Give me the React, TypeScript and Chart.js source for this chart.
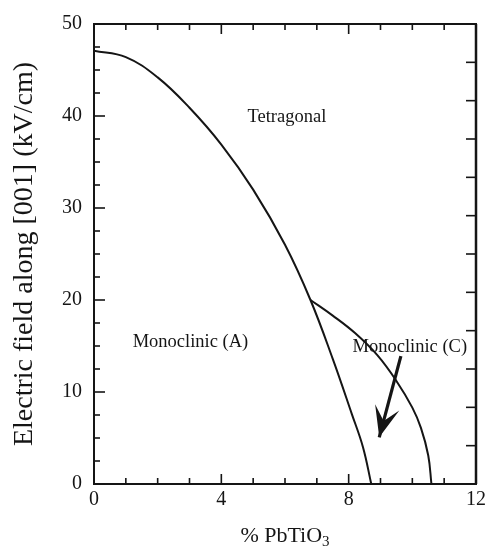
import React, { useEffect, useRef } from "react";
import { Chart, registerables } from "chart.js";

Chart.register(...registerables);

// ---- data ----
const X_MIN = 0;
const X_MAX = 12;
const Y_MIN = 0;
const Y_MAX = 50;
const X_LABEL_STEP = 4;
const Y_LABEL_STEP = 10;
const X_MINOR_STEP = 1;
const Y_MINOR_STEP = 2.5;
const RIGHT_DIVISIONS = 12;

// boundary between Monoclinic (A) and Tetragonal / Monoclinic (C)
const boundaryAX = [0, 1, 2, 3, 4, 5, 6, 6.8, 7.5, 8.1, 8.45, 8.71];
const boundaryAY = [47.1, 46.4, 44.2, 40.9, 36.9, 32.0, 26.0, 20.0, 13.6, 7.6, 4.0, 0];

// boundary between Tetragonal and Monoclinic (C)
const boundaryCX = [6.8, 7.5, 8.2, 8.9, 9.5, 10.0, 10.27, 10.5, 10.6];
const boundaryCY = [20.0, 18.3, 16.4, 14.0, 11.2, 8.3, 6.1, 3.1, 0];

// arrow from the "Monoclinic (C)" label into its region
const arrowX = [9.64, 8.96];
const arrowY = [13.9, 5.07];

const regionLabels = ["Tetragonal", "Monoclinic (A)", "Monoclinic (C)"];
const regionX = [6.06, 3.03, 9.92];
const regionY = [39.35, 14.9, 14.4];

const xTitleMain = "% PbTiO";
const xTitleSub = "3";
const yTitle = "Electric field along [001] (kV/cm)";

const FONT = "'Liberation Serif', 'Times New Roman', serif";
const INK = "#151515";

const decorPlugin = {
  id: "decor",
  afterDraw(chart: any) {
    const { ctx, chartArea } = chart;
    const xs = chart.scales.x;
    const ys = chart.scales.y;
    const { left, right, top, bottom } = chartArea;
    ctx.save();
    ctx.strokeStyle = INK;
    ctx.fillStyle = INK;

    // frame
    ctx.lineWidth = 2;
    ctx.strokeRect(left, top, right - left, bottom - top);
    ctx.lineWidth = 2.5;
    ctx.beginPath();
    ctx.moveTo(right, top);
    ctx.lineTo(right, bottom);
    ctx.stroke();

    // x ticks (bottom and top, inward)
    ctx.lineWidth = 1.6;
    for (let v = X_MIN; v <= X_MAX + 1e-9; v += X_MINOR_STEP) {
      const px = xs.getPixelForValue(v);
      const major = Math.abs(v / X_LABEL_STEP - Math.round(v / X_LABEL_STEP)) < 1e-6;
      const len = major ? 10 : 6;
      ctx.beginPath();
      ctx.moveTo(px, bottom);
      ctx.lineTo(px, bottom - len);
      ctx.moveTo(px, top);
      ctx.lineTo(px, top + len);
      ctx.stroke();
    }
    // left y ticks
    for (let v = Y_MIN; v <= Y_MAX + 1e-9; v += Y_MINOR_STEP) {
      const py = ys.getPixelForValue(v);
      const major = Math.abs(v / Y_LABEL_STEP - Math.round(v / Y_LABEL_STEP)) < 1e-6;
      const len = major ? 11 : 6;
      ctx.beginPath();
      ctx.moveTo(left, py);
      ctx.lineTo(left + len, py);
      ctx.stroke();
    }
    // right ticks
    for (let i = 0; i <= RIGHT_DIVISIONS; i++) {
      const v = Y_MIN + ((Y_MAX - Y_MIN) * i) / RIGHT_DIVISIONS;
      const py = ys.getPixelForValue(v);
      ctx.beginPath();
      ctx.moveTo(right, py);
      ctx.lineTo(right - 10, py);
      ctx.stroke();
    }

    // arrow head
    const tx = xs.getPixelForValue(arrowX[1]);
    const ty = ys.getPixelForValue(arrowY[1]);
    const sx = xs.getPixelForValue(arrowX[0]);
    const sy = ys.getPixelForValue(arrowY[0]);
    const dx = tx - sx;
    const dy = ty - sy;
    const L = Math.hypot(dx, dy);
    const ux = dx / L;
    const uy = dy / L;
    const nx = -uy;
    const ny = ux;
    const headLen = 31;
    const halfW = 12.5;
    const notch = 17;
    ctx.beginPath();
    ctx.moveTo(tx, ty);
    ctx.lineTo(tx - ux * headLen + nx * halfW, ty - uy * headLen + ny * halfW);
    ctx.lineTo(tx - ux * notch, ty - uy * notch);
    ctx.lineTo(tx - ux * headLen - nx * halfW, ty - uy * headLen - ny * halfW);
    ctx.closePath();
    ctx.fill();

    // region labels
    ctx.font = `18.5px ${FONT}`;
    ctx.textAlign = "center";
    ctx.textBaseline = "alphabetic";
    regionLabels.forEach((t, i) => {
      ctx.fillText(t, xs.getPixelForValue(regionX[i]), ys.getPixelForValue(regionY[i]));
    });

    // x title with subscript
    const cx = (left + right) / 2;
    ctx.font = `22px ${FONT}`;
    const wMain = ctx.measureText(xTitleMain).width;
    ctx.font = `15px ${FONT}`;
    const wSub = ctx.measureText(xTitleSub).width;
    const startX = cx - (wMain + wSub) / 2;
    ctx.textAlign = "left";
    ctx.font = `22px ${FONT}`;
    ctx.fillText(xTitleMain, startX, 542);
    ctx.font = `15px ${FONT}`;
    ctx.fillText(xTitleSub, startX + wMain, 546);

    // y title
    ctx.font = `28px ${FONT}`;
    ctx.textAlign = "center";
    ctx.translate(32, (top + bottom) / 2);
    ctx.rotate(-Math.PI / 2);
    ctx.fillText(yTitle, 0, 0);
    ctx.restore();
  },
};

export default function App() {
  const canvasRef = useRef<HTMLCanvasElement | null>(null);

  useEffect(() => {
    document.body.style.margin = "0";
    const canvas = canvasRef.current;
    if (!canvas) return;
    const lineStyle = {
      borderColor: INK,
      borderWidth: 2,
      pointRadius: 0,
      fill: false,
      tension: 0.4,
    };
    const chart = new Chart(canvas, {
      type: "line",
      data: {
        datasets: [
          {
            ...lineStyle,
            label: "M_A boundary",
            data: boundaryAX.map((x, i) => ({ x, y: boundaryAY[i] })),
          },
          {
            ...lineStyle,
            label: "M_C boundary",
            data: boundaryCX.map((x, i) => ({ x, y: boundaryCY[i] })),
          },
          {
            label: "arrow",
            borderColor: INK,
            borderWidth: 3.2,
            pointRadius: 0,
            fill: false,
            tension: 0,
            data: arrowX.map((x, i) => ({ x, y: arrowY[i] })),
          },
        ],
      },
      options: {
        animation: false,
        responsive: false,
        devicePixelRatio: 1,
        layout: { padding: { top: 24, right: 12, left: 0, bottom: 0 } },
        plugins: {
          legend: { display: false },
          tooltip: { enabled: false },
        },
        scales: {
          x: {
            type: "linear",
            min: X_MIN,
            max: X_MAX,
            grid: { display: false, drawTicks: false },
            border: { display: false },
            ticks: {
              stepSize: X_LABEL_STEP,
              color: INK,
              padding: 4,
              font: { family: FONT, size: 20 },
            },
            afterFit(scale: any) {
              scale.height = 67;
            },
          },
          y: {
            type: "linear",
            min: Y_MIN,
            max: Y_MAX,
            grid: { display: false, drawTicks: false },
            border: { display: false },
            ticks: {
              stepSize: Y_LABEL_STEP,
              color: INK,
              padding: 12,
              font: { family: FONT, size: 20 },
            },
            afterFit(scale: any) {
              scale.width = 94;
            },
          },
        },
      },
      plugins: [decorPlugin],
    });
    return () => chart.destroy();
  }, []);

  return (
    <div style={{ width: 490, height: 551, background: "#fff" }}>
      <canvas ref={canvasRef} width={490} height={551} style={{ display: "block" }} />
    </div>
  );
}
